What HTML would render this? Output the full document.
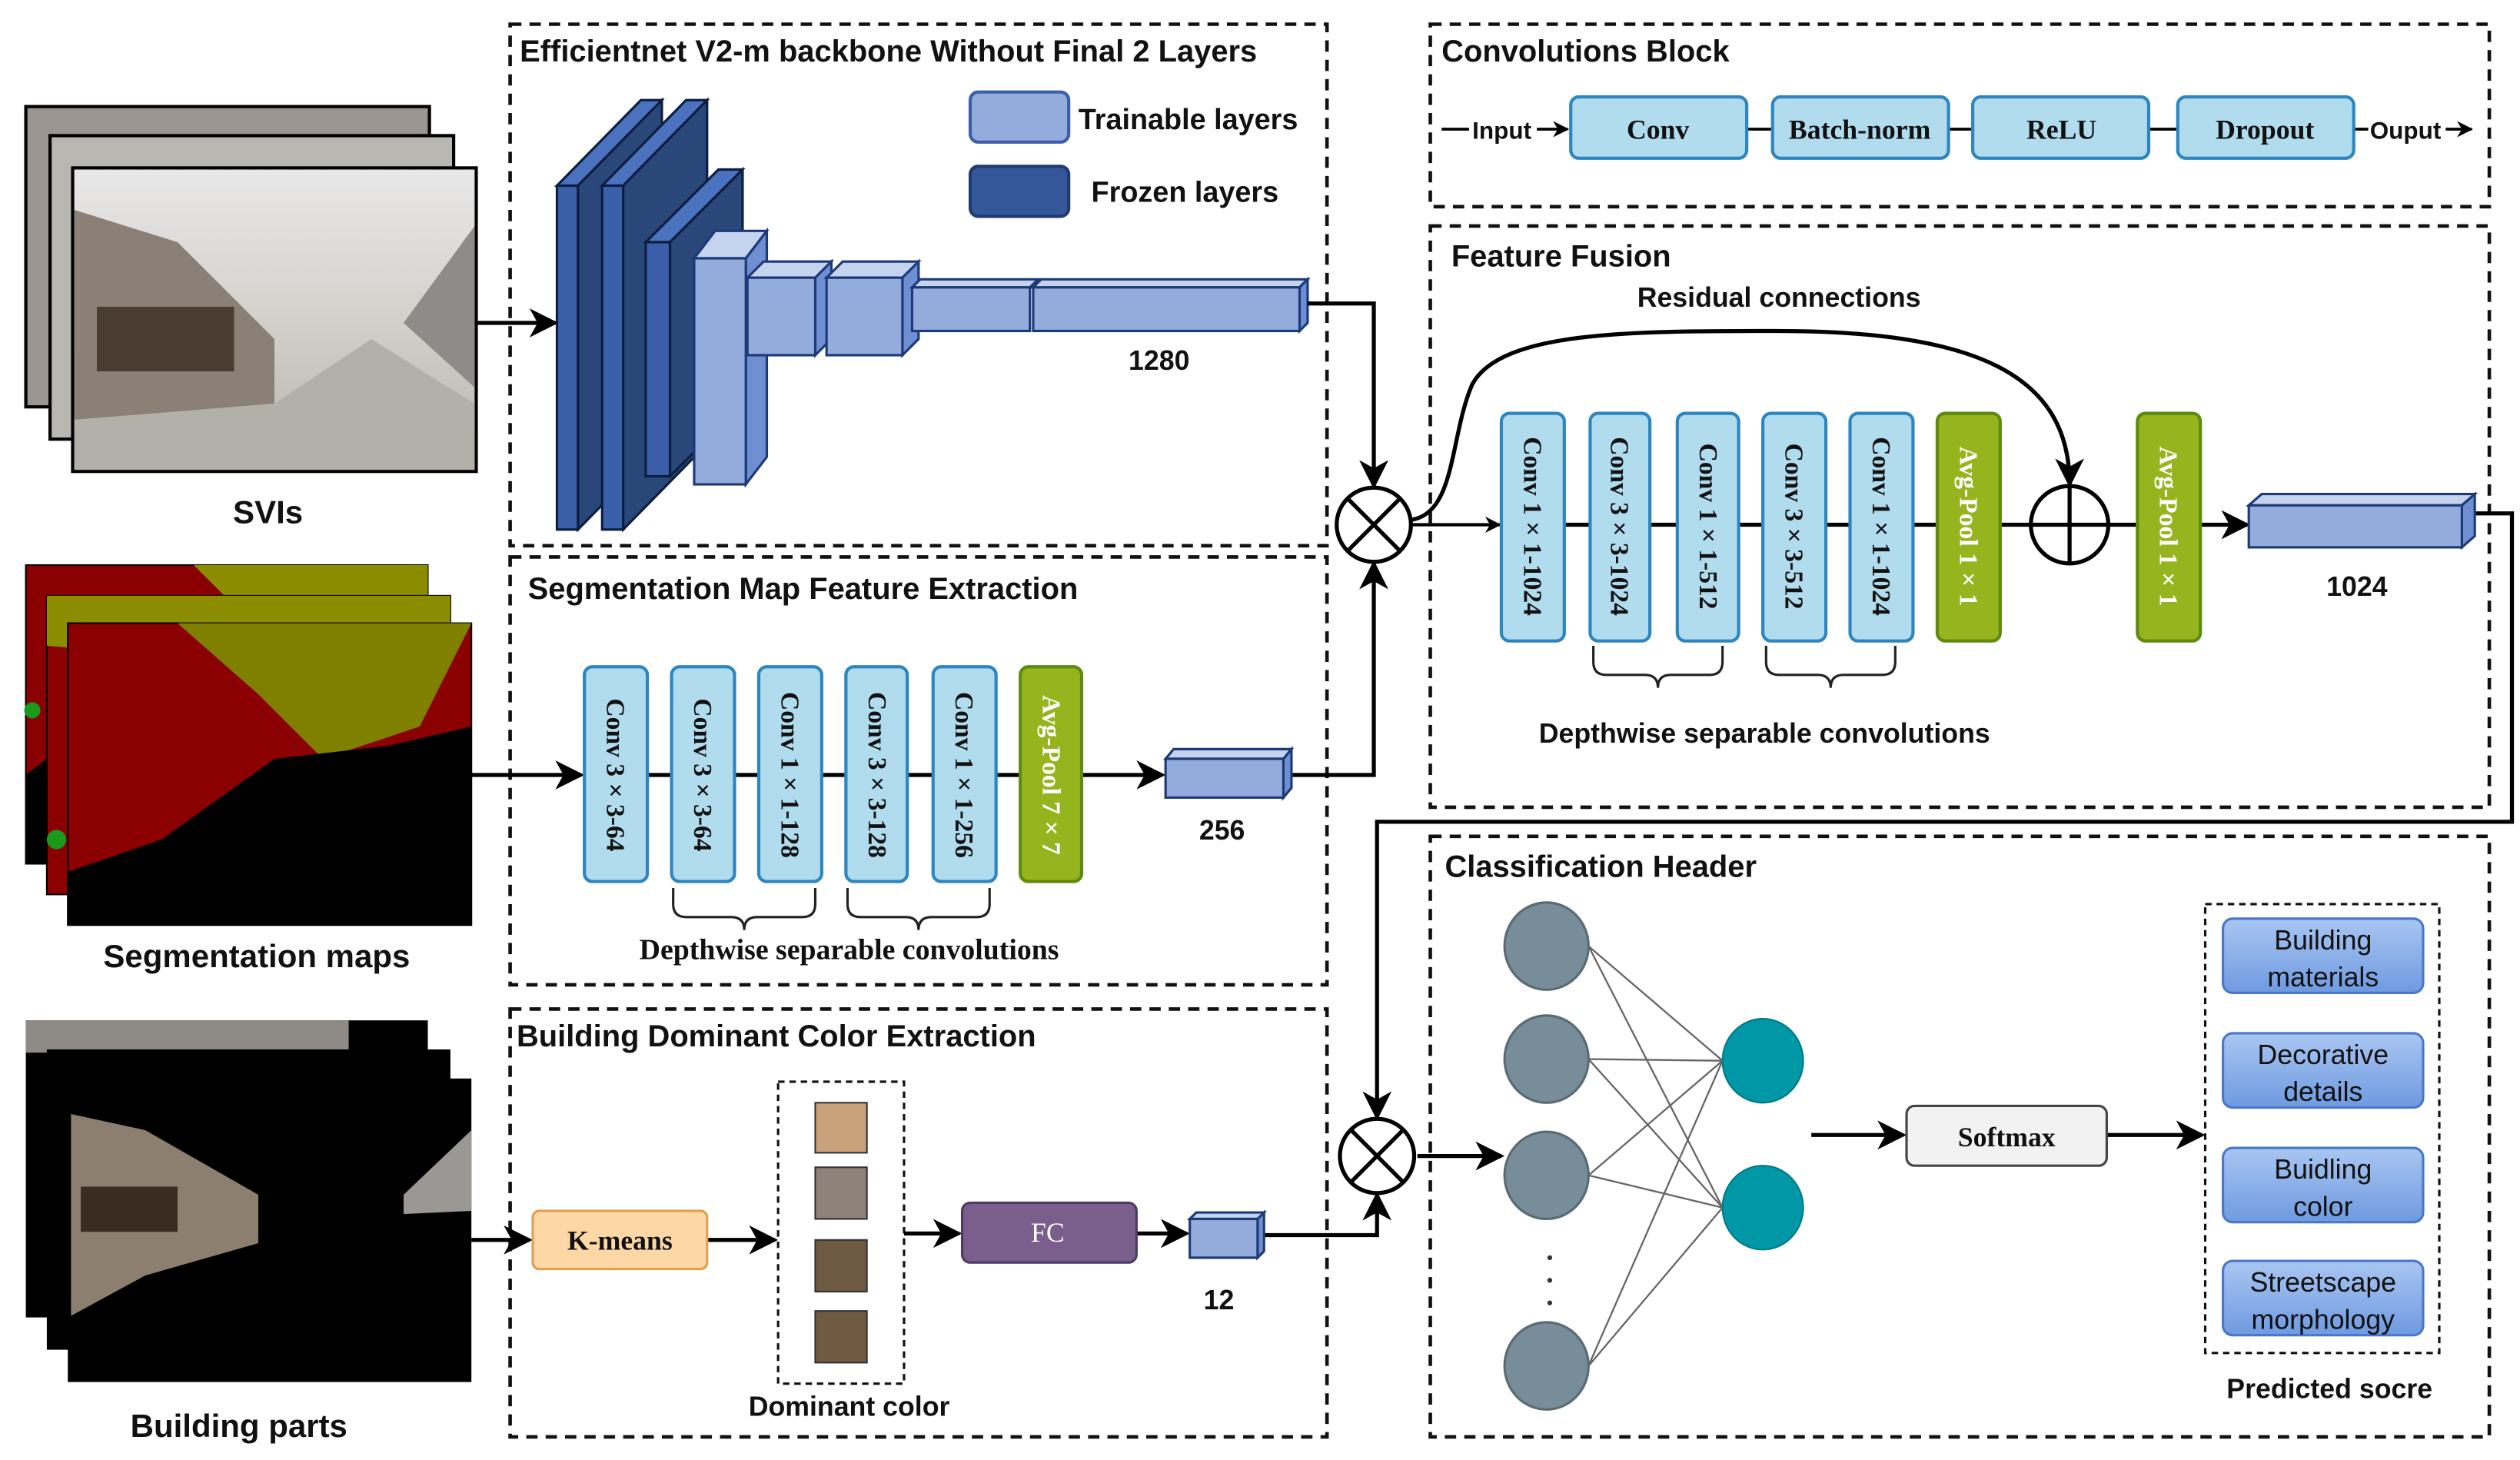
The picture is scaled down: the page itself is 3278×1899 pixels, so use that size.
<!DOCTYPE html>
<html><head><meta charset="utf-8"><style>
html,body{margin:0;padding:0;background:#fff}
svg{display:block}
.t{font-family:"Liberation Sans",sans-serif;fill:#111}
.s{font-family:"Liberation Serif",serif;font-weight:bold;fill:#111}
</style></head><body>
<svg width="3278" height="1899" viewBox="0 0 1561 904.3" preserveAspectRatio="none" xmlns="http://www.w3.org/2000/svg">
<defs>
<marker id="a" markerWidth="10" markerHeight="10" refX="9" refY="5" orient="auto" markerUnits="userSpaceOnUse"><path d="M0,0 L10,5 L0,10 L3,5 z" fill="#000"/></marker>
<marker id="b" markerWidth="18" markerHeight="18" refX="16" refY="9" orient="auto" markerUnits="userSpaceOnUse"><path d="M0,0 L18,9 L0,18 L5,9 z" fill="#000"/></marker>
<linearGradient id="g" x1="0" y1="0" x2="0" y2="1"><stop offset="0" stop-color="#a9c6f2"/><stop offset="1" stop-color="#6f9ae0"/></linearGradient>
<linearGradient id="sky" x1="0" y1="0" x2="0" y2="1"><stop offset="0" stop-color="#e8e8e8"/><stop offset="0.45" stop-color="#d6d3cf"/><stop offset="1" stop-color="#b8b4ae"/></linearGradient>
</defs>
<!-- dashed boxes -->
<g fill="none" stroke="#111" stroke-width="2.2" stroke-dasharray="7,5">
<rect x="316" y="15" width="506" height="323"/>
<rect x="316" y="345" width="506" height="265"/>
<rect x="316" y="625" width="506" height="265"/>
<rect x="886" y="15" width="656" height="113"/>
<rect x="886" y="140" width="656" height="360"/>
<rect x="886" y="518" width="656" height="372"/>
</g>
<g fill="none" stroke="#111" stroke-width="1.5" stroke-dasharray="4,3">
<rect x="482" y="670" width="78" height="187"/>
<rect x="1366" y="560" width="145" height="278"/>
</g>
<!-- titles -->
<g class="t" font-size="19" font-weight="bold">
<text x="322" y="38">Efficientnet V2-m backbone Without Final 2 Layers</text>
<text x="327" y="371">Segmentation Map Feature Extraction</text>
<text x="320" y="648">Building Dominant Color Extraction</text>
<text x="893" y="38">Convolutions Block</text>
<text x="899" y="165">Feature Fusion</text>
<text x="895" y="543">Classification Header</text>
</g>
<!-- SVIs photos -->
<rect x="16" y="66" width="250" height="186" fill="#9a9590" stroke="#000" stroke-width="2"/>
<rect x="31" y="84" width="250" height="188" fill="#b9b7b2" stroke="#000" stroke-width="2"/>
<rect x="45" y="104" width="250" height="188" fill="url(#sky)" stroke="#000" stroke-width="2"/>
<polygon points="46,130 110,150 170,210 170,250 46,260" fill="#8a8076"/>
<polygon points="46,260 170,250 230,210 294,250 294,291 46,291" fill="#b3afa9"/>
<polygon points="294,140 250,200 294,240" fill="#8d8c88"/>
<rect x="60" y="190" width="85" height="40" fill="#4a3c30"/>
<!-- seg maps -->
<rect x="16" y="350" width="249" height="185" fill="#8b0000" stroke="#000"/>
<polygon points="120,350 265,350 265,400 180,410" fill="#8c8c00"/>
<rect x="29" y="369" width="250" height="185" fill="#8b0000" stroke="#000"/>
<polygon points="29,369 279,369 279,420 29,400" fill="#8c8c00"/>
<rect x="42" y="386" width="250" height="187" fill="#8b0000" stroke="#000"/>
<polygon points="110,386 292,386 260,450 200,470 160,430" fill="#808000"/>
<polygon points="42,540 100,520 170,470 240,462 292,450 292,573 42,573" fill="#000"/>
<polygon points="16,480 29,470 29,535 16,535" fill="#000"/>
<circle cx="35" cy="520" r="6" fill="#1a9a1a"/><circle cx="20" cy="440" r="5" fill="#1a9a1a"/>
<!-- building parts -->
<rect x="16" y="632" width="249" height="184" fill="#000"/>
<rect x="16" y="632" width="200" height="20" fill="#8e8a86"/>
<rect x="29" y="650" width="250" height="186" fill="#000"/>
<rect x="42" y="668" width="250" height="188" fill="#000"/>
<polygon points="44,690 90,700 160,740 160,770 90,790 44,815" fill="#8d7f6f"/>
<polygon points="250,740 292,700 292,750 250,752" fill="#9a9894"/>
<rect x="50" y="735" width="60" height="28" fill="#3a2c20"/>
<g class="t" font-size="20" font-weight="bold" text-anchor="middle">
<text x="166" y="324">SVIs</text>
<text x="159" y="599">Segmentation maps</text>
<text x="148" y="890">Building parts</text>
</g>
<!-- legend -->
<rect x="601" y="57" width="61" height="31" rx="5" fill="#94acdb" stroke="#3a5fa8" stroke-width="2"/>
<rect x="601" y="103" width="61" height="31" rx="5" fill="#34579a" stroke="#1f3b70" stroke-width="2"/>
<text class="t" x="668" y="80" font-size="18" font-weight="bold">Trainable layers</text>
<text class="t" x="676" y="125" font-size="18" font-weight="bold">Frozen layers</text>
<!-- backbone cuboids -->
<g stroke="#0c1e40" stroke-width="1.5">
<polygon points="345,115 397,62 410,62 358,115" fill="#4b72bf"/><polygon points="358,115 410,62 410,275 358,328" fill="#2a4779"/><rect x="345" y="115" width="13" height="213" fill="#3a5fa8"/>
<polygon points="373,115 425,62 438,62 386,115" fill="#4b72bf"/><polygon points="386,115 438,62 438,275 386,328" fill="#2a4779"/><rect x="373" y="115" width="13" height="213" fill="#3a5fa8"/>
<polygon points="400,150 445,105 460,105 415,150" fill="#4b72bf"/><polygon points="415,150 460,105 460,250 415,295" fill="#2a4779"/><rect x="400" y="150" width="15" height="145" fill="#3a5fa8"/>
</g>
<g stroke="#1d3a78" stroke-width="1.5">
<polygon points="430,160 443,143 475,143 462,160" fill="#c5d3ef"/><polygon points="462,160 475,143 475,283 462,300" fill="#6f8fd2"/><rect x="430" y="160" width="32" height="140" fill="#94acdb"/>
<polygon points="463,172 473,162 515,162 505,172" fill="#c5d3ef"/><polygon points="505,172 515,162 515,210 505,220" fill="#6f8fd2"/><rect x="463" y="172" width="42" height="48" fill="#94acdb"/>
<polygon points="512,172 522,162 569,162 559,172" fill="#c5d3ef"/><polygon points="559,172 569,162 569,210 559,220" fill="#6f8fd2"/><rect x="512" y="172" width="47" height="48" fill="#94acdb"/>
<polygon points="565,178 570,173 643,173 638,178" fill="#c5d3ef"/><rect x="565" y="178" width="73" height="27" fill="#94acdb"/>
<polygon points="640,178 645,173 810,173 805,178" fill="#c5d3ef"/><polygon points="805,178 810,173 810,200 805,205" fill="#6f8fd2"/><rect x="640" y="178" width="165" height="27" fill="#94acdb"/>
</g>
<text class="t" x="718" y="229" font-size="17" font-weight="bold" text-anchor="middle">1280</text>
<!-- main connectors -->
<g fill="none" stroke="#000" stroke-width="2.5">
<line x1="296" y1="200" x2="344" y2="200" marker-end="url(#b)"/>
<polyline points="810,188 851,188 851,301" marker-end="url(#b)"/>
<polyline points="800,480 851,480 851,349" marker-end="url(#b)"/>
<line x1="875" y1="325" x2="929" y2="325" stroke-width="2" marker-end="url(#a)"/>
<path d="M874,322 C902,318 898,270 912,238 C930,205 1010,205 1100,205 C1220,205 1282,230 1282,300" marker-end="url(#b)"/>
<polyline points="1533,318 1556,318 1556,509 853,509 853,692" marker-end="url(#b)"/>
<polyline points="783,765 853,765 853,740" marker-end="url(#b)"/>
<line x1="292" y1="480" x2="360" y2="480" marker-end="url(#b)"/>
<line x1="292" y1="768" x2="328" y2="768" marker-end="url(#b)"/>
<line x1="438" y1="768" x2="480" y2="768" marker-end="url(#b)"/>
<line x1="560" y1="764" x2="594" y2="764" marker-end="url(#b)"/>
<line x1="704" y1="764" x2="735" y2="764" marker-end="url(#b)"/>
<line x1="670" y1="480" x2="720" y2="480" marker-end="url(#b)"/>
<line x1="878" y1="716" x2="930" y2="716" marker-end="url(#b)"/>
<line x1="1122" y1="703" x2="1179" y2="703" marker-end="url(#b)"/>
<line x1="1305" y1="703" x2="1364" y2="703" marker-end="url(#b)"/>
<line x1="1239" y1="325" x2="1324" y2="325"/>
<line x1="1363" y1="325" x2="1392" y2="325" marker-end="url(#b)"/>
<line x1="969" y1="325" x2="1200" y2="325"/>
<line x1="401" y1="480" x2="632" y2="480"/>
</g>
<!-- otimes -->
<g fill="#fff" stroke="#000" stroke-width="2.5">
<circle cx="851" cy="325" r="23"/><circle cx="853" cy="716" r="23"/><circle cx="1282" cy="325" r="24"/>
</g>
<g stroke="#000" stroke-width="2.5">
<line x1="835" y1="309" x2="867" y2="341"/><line x1="867" y1="309" x2="835" y2="341"/>
<line x1="837" y1="700" x2="869" y2="732"/><line x1="869" y1="700" x2="837" y2="732"/>
<line x1="1258" y1="325" x2="1306" y2="325"/><line x1="1282" y1="301" x2="1282" y2="349"/>
</g>
<!-- seg boxes -->
<g fill="#b0dcee" stroke="#2e86c1" stroke-width="2">
<rect x="362" y="413" width="39" height="133" rx="5"/><rect x="416" y="413" width="39" height="133" rx="5"/>
<rect x="470" y="413" width="39" height="133" rx="5"/><rect x="524" y="413" width="38" height="133" rx="5"/>
<rect x="578" y="413" width="39" height="133" rx="5"/>
<rect x="930" y="256" width="39" height="141" rx="5"/><rect x="985" y="256" width="37" height="141" rx="5"/>
<rect x="1039" y="256" width="38" height="141" rx="5"/><rect x="1092" y="256" width="39" height="141" rx="5"/>
<rect x="1146" y="256" width="39" height="141" rx="5"/>
</g>
<g fill="#96b41e" stroke="#5f8a10" stroke-width="2">
<rect x="632" y="413" width="38" height="133" rx="5"/>
<rect x="1200" y="256" width="39" height="141" rx="5"/><rect x="1324" y="256" width="39" height="141" rx="5"/>
</g>
<g class="s" font-size="16" text-anchor="middle" dominant-baseline="central">
<text transform="translate(381,480) rotate(90)">Conv  3 × 3-64</text>
<text transform="translate(435,480) rotate(90)">Conv  3 × 3-64</text>
<text transform="translate(489,480) rotate(90)">Conv 1 × 1-128</text>
<text transform="translate(543,480) rotate(90)">Conv 3 × 3-128</text>
<text transform="translate(597,480) rotate(90)">Conv 1 × 1-256</text>
<text transform="translate(651,480) rotate(90)" fill="#fff">Avg-Pool  7 × 7</text>
<text transform="translate(949,326) rotate(90)">Conv 1 × 1-1024</text>
<text transform="translate(1003,326) rotate(90)">Conv 3 × 3-1024</text>
<text transform="translate(1058,326) rotate(90)">Conv 1 × 1-512</text>
<text transform="translate(1111,326) rotate(90)">Conv 3 × 3-512</text>
<text transform="translate(1165,326) rotate(90)">Conv 1 × 1-1024</text>
<text transform="translate(1219,326) rotate(90)" fill="#fff">Avg-Pool  1 × 1</text>
<text transform="translate(1343,326) rotate(90)" fill="#fff">Avg-Pool  1 × 1</text>
</g>
<!-- braces -->
<g fill="none" stroke="#222" stroke-width="1.5">
<path d="M417,550 v10 q0,8 8,8 h28 q8,0 8,8 q0,-8 8,-8 h28 q8,0 8,-8 v-10"/>
<path d="M525,550 v10 q0,8 8,8 h28 q8,0 8,8 q0,-8 8,-8 h28 q8,0 8,-8 v-10"/>
<path d="M987,400 v10 q0,8 8,8 h24 q8,0 8,8 q0,-8 8,-8 h24 q8,0 8,-8 v-10"/>
<path d="M1094,400 v10 q0,8 8,8 h24 q8,0 8,8 q0,-8 8,-8 h24 q8,0 8,-8 v-10"/>
</g>
<text class="s" x="526" y="594" font-size="18" text-anchor="middle">Depthwise separable convolutions</text>
<text class="t" x="1093" y="460" font-size="17" font-weight="bold" text-anchor="middle">Depthwise separable convolutions</text>
<text class="t" x="1102" y="190" font-size="17" font-weight="bold" text-anchor="middle">Residual connections</text>
<!-- small cuboids -->
<g stroke="#1d3a78" stroke-width="1.5">
<polygon points="722,470 727,464 800,464 795,470" fill="#c5d3ef"/><polygon points="795,470 800,464 800,488 795,494" fill="#6f8fd2"/><rect x="722" y="470" width="73" height="24" fill="#94acdb"/>
<polygon points="737,755 741,751 783,751 779,755" fill="#c5d3ef"/><polygon points="779,755 783,751 783,775 779,779" fill="#6f8fd2"/><rect x="737" y="755" width="42" height="24" fill="#94acdb"/>
<polygon points="1393,313 1401,306 1533,306 1525,313" fill="#c5d3ef"/><polygon points="1525,313 1533,306 1533,332 1525,339" fill="#6f8fd2"/><rect x="1393" y="313" width="132" height="26" fill="#94acdb"/>
</g>
<g class="t" font-size="17" font-weight="bold" text-anchor="middle">
<text x="757" y="520">256</text><text x="755" y="811">12</text><text x="1460" y="369">1024</text>
<text x="526" y="877">Dominant color</text>
<text x="1443" y="866">Predicted socre</text>
</g>
<!-- color section -->
<rect x="330" y="750" width="108" height="36" rx="4" fill="#fdd7a5" stroke="#e0a050" stroke-width="1.5"/>
<text class="s" x="384" y="774" font-size="17" text-anchor="middle">K-means</text>
<rect x="505" y="683" width="32" height="31" fill="#c9a27c" stroke="#333"/>
<rect x="505" y="723" width="32" height="32" fill="#8d8279" stroke="#333"/>
<rect x="505" y="768" width="32" height="32" fill="#6e5a43" stroke="#333"/>
<rect x="505" y="812" width="32" height="32" fill="#715a42" stroke="#333"/>
<rect x="596" y="745" width="108" height="37" rx="5" fill="#7a5e8c" stroke="#4d3a63" stroke-width="1.5"/>
<text x="649" y="769" font-family="Liberation Serif,serif" font-size="17" fill="#fff" text-anchor="middle">FC</text>
<!-- conv block -->
<g fill="none" stroke="#000" stroke-width="1.8">
<line x1="893" y1="80" x2="910" y2="80"/>
<line x1="952" y1="80" x2="971" y2="80" marker-end="url(#a)"/>
<line x1="1082" y1="80" x2="1098" y2="80"/><line x1="1207" y1="80" x2="1222" y2="80"/><line x1="1331" y1="80" x2="1349" y2="80"/>
<line x1="1458" y1="80" x2="1467" y2="80"/>
<line x1="1515" y1="80" x2="1531" y2="80" marker-end="url(#a)"/>
</g>
<text class="t" x="912" y="86" font-size="15" font-weight="bold">Input</text>
<text class="t" x="1468" y="86" font-size="15" font-weight="bold">Ouput</text>
<g fill="#b0dcee" stroke="#2e86c1" stroke-width="2">
<rect x="973" y="60" width="109" height="38" rx="5"/><rect x="1098" y="60" width="109" height="38" rx="5"/>
<rect x="1222" y="60" width="109" height="38" rx="5"/><rect x="1349" y="60" width="109" height="38" rx="5"/>
</g>
<g class="s" font-size="17" text-anchor="middle">
<text x="1027" y="86">Conv</text><text x="1152" y="86">Batch-norm</text><text x="1277" y="86">ReLU</text><text x="1403" y="86">Dropout</text>
</g>
<!-- classification -->
<g stroke="#666" stroke-width="1.1">
<line x1="984" y1="586" x2="1067" y2="657"/><line x1="984" y1="586" x2="1067" y2="748"/>
<line x1="984" y1="656" x2="1067" y2="657"/><line x1="984" y1="656" x2="1067" y2="748"/>
<line x1="984" y1="728" x2="1067" y2="657"/><line x1="984" y1="728" x2="1067" y2="748"/>
<line x1="984" y1="846" x2="1067" y2="657"/><line x1="984" y1="846" x2="1067" y2="748"/>
</g>
<g fill="#778d99" stroke="#5b6b73" stroke-width="1.5">
<ellipse cx="958" cy="586" rx="26" ry="27"/><ellipse cx="958" cy="656" rx="26" ry="27"/>
<ellipse cx="958" cy="728" rx="26" ry="27"/><ellipse cx="958" cy="846" rx="26" ry="27"/>
</g>
<g fill="#0097a7" stroke="#007a88" stroke-width="1">
<ellipse cx="1092" cy="657" rx="25" ry="26"/><ellipse cx="1092" cy="748" rx="25" ry="26"/>
</g>
<g fill="#333"><circle cx="960" cy="779" r="1.5"/><circle cx="960" cy="793" r="1.5"/><circle cx="960" cy="807" r="1.5"/></g>
<rect x="1181" y="685" width="124" height="37" rx="5" fill="#f2f2f2" stroke="#444" stroke-width="1.5"/>
<text class="s" x="1243" y="710" font-size="17" text-anchor="middle">Softmax</text>
<g fill="url(#g)" stroke="#4a78c8" stroke-width="1.5">
<rect x="1377" y="569" width="124" height="46" rx="6"/><rect x="1377" y="640" width="124" height="46" rx="6"/>
<rect x="1377" y="711" width="124" height="46" rx="6"/><rect x="1377" y="781" width="124" height="46" rx="6"/>
</g>
<g class="t" font-size="17" text-anchor="middle">
<text x="1439" y="588">Building</text><text x="1439" y="611">materials</text>
<text x="1439" y="659">Decorative</text><text x="1439" y="682">details</text>
<text x="1439" y="730">Buidling</text><text x="1439" y="753">color</text>
<text x="1439" y="800">Streetscape</text><text x="1439" y="823">morphology</text>
</g>
</svg>
</body></html>
